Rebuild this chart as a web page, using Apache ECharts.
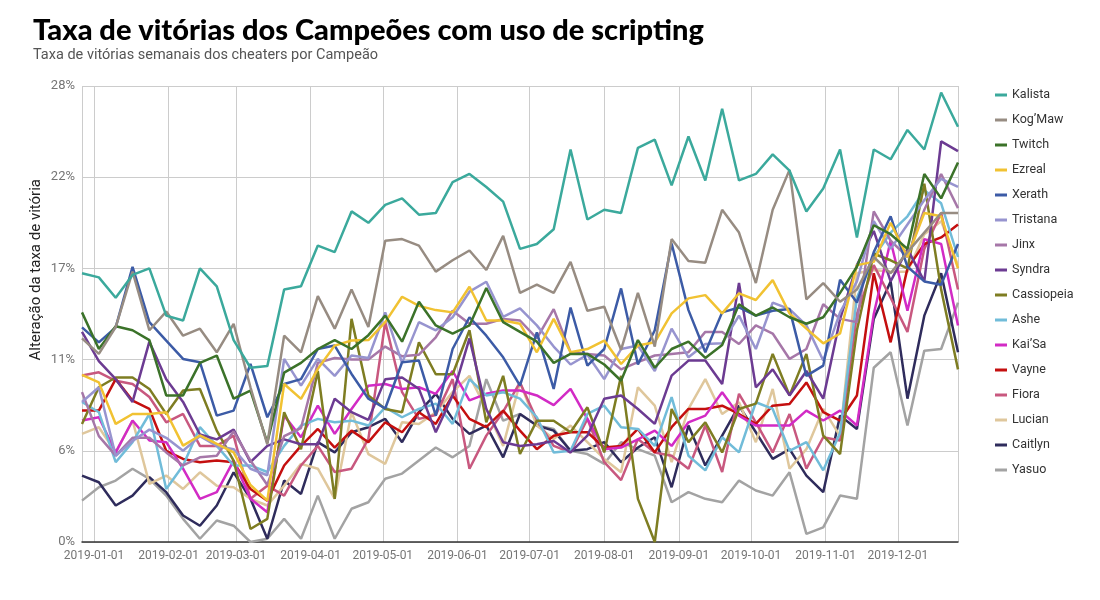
<!DOCTYPE html>
<html><head><meta charset="utf-8">
<script src="https://cdn.jsdelivr.net/npm/echarts@6/dist/echarts.min.js"></script>
<style>html,body{margin:0;padding:0;background:#fff}#c{width:1100px;height:600px}</style>
</head><body><div id="c"></div>
<script>
const weeks = ['2018-12-27','2019-01-03','2019-01-10','2019-01-17','2019-01-24','2019-01-31','2019-02-07','2019-02-14','2019-02-21','2019-02-28','2019-03-07','2019-03-14','2019-03-21','2019-03-28','2019-04-04','2019-04-11','2019-04-18','2019-04-25','2019-05-02','2019-05-09','2019-05-16','2019-05-23','2019-05-30','2019-06-06','2019-06-13','2019-06-20','2019-06-27','2019-07-04','2019-07-11','2019-07-18','2019-07-25','2019-08-01','2019-08-08','2019-08-15','2019-08-22','2019-08-29','2019-09-05','2019-09-12','2019-09-19','2019-09-26','2019-10-03','2019-10-10','2019-10-17','2019-10-24','2019-10-31','2019-11-07','2019-11-14','2019-11-21','2019-11-28','2019-12-05','2019-12-12','2019-12-19','2019-12-26'];

const champions = ['Kalista','Kog\u2019Maw','Twitch','Ezreal','Xerath','Tristana','Jinx','Syndra','Cassiopeia','Ashe','Kai\u2019Sa','Vayne','Fiora','Lucian','Caitlyn','Yasuo'];
const colors = ['#3ba99c','#978c82','#3b7229','#f1c232','#3c5ba6','#9794cf','#a677a8','#6c3b92','#7e7d22','#71bcd9','#d22bc5','#c40f0f','#c8587f','#dfc79c','#2f2c5c','#a3a3a3'];

const kalista = [16.5,16.25,15.0,16.4,16.8,13.9,13.6,16.8,15.7,12.4,10.7,10.8,15.5,15.7,18.2,17.8,20.3,19.6,20.7,21.1,20.1,20.2,22.1,22.6,21.8,20.9,18.0,18.3,19.2,24.1,19.8,20.4,20.2,24.2,24.7,21.9,24.9,22.2,26.6,22.2,22.6,23.8,22.8,20.3,21.7,24.1,18.7,24.1,23.5,25.3,24.1,27.6,25.5];
const kogmaw = [12.5,11.55,13.2,16.6,13.0,14.15,12.67,13.1,11.65,13.4,9.5,6.0,12.67,11.65,15.1,13.1,15.5,13.2,18.5,18.6,18.2,16.6,17.3,17.9,16.7,18.8,15.3,15.8,15.3,17.2,14.2,14.45,11.8,15.3,12.0,18.6,17.25,17.15,20.4,19.0,15.9,20.4,22.85,14.9,15.9,14.75,15.5,17.5,16.5,17.8,19.0,20.2,20.2];
const twitch = [14.1,11.85,13.25,13.0,12.4,9.0,9.0,11.0,11.45,8.8,9.3,6.1,10.4,11.0,11.85,12.4,11.85,12.7,13.9,12.3,14.75,13.3,12.8,13.3,15.6,13.5,12.9,12.3,11.0,11.55,11.55,10.9,9.9,12.4,10.7,11.85,12.3,11.3,12.1,14.6,13.9,14.4,13.8,13.4,13.8,15.3,16.9,19.45,18.9,18.0,22.6,21.1,23.3];
const ezreal = [10.26,9.8,7.25,7.86,7.86,7.97,5.92,6.54,6.03,5.5,3.5,2.54,9.7,8.79,10.63,12.06,12.37,12.4,13.5,15.06,14.5,14.24,14.1,15.67,13.6,13.6,13.4,11.65,13.7,11.65,11.85,12.37,10.93,12.06,12.26,14.04,14.96,15.16,14.04,15.27,14.86,16.08,14.04,13.1,12.2,12.8,17.0,17.2,19.6,17.5,20.2,20.0,16.8];
const xerath = [13.18,12.26,13.18,16.9,13.5,12.37,11.24,11.04,7.76,8.07,10.93,7.66,9.7,10.0,11.85,12.06,10.32,8.8,8.2,11.04,11.14,7.76,11.85,13.8,12.67,11.34,9.6,12.87,9.4,14.4,10.83,11.85,15.57,10.9,13.0,18.33,14.24,11.65,14.1,14.4,13.9,14.2,14.3,10.2,10.83,16.1,14.7,17.8,20.0,16.9,16.0,15.8,18.3];
const tristana = [8.6,9.5,5.3,6.2,6.9,6.4,5.6,6.5,5.9,5.7,4.5,4.1,11.24,9.6,11.24,10.2,11.45,11.3,14.1,11.0,13.5,13.0,13.8,15.37,15.98,13.83,14.35,13.3,12.0,10.9,11.5,10.0,11.85,12.06,10.5,13.1,11.34,12.16,12.2,13.9,11.85,14.7,14.3,13.3,11.14,14.1,16.0,19.7,18.0,19.5,21.0,22.3,21.8];
const jinx = [9.2,6.5,5.3,6.4,6.4,5.5,4.7,5.2,5.3,6.8,5.0,3.5,6.5,7.0,11.0,11.3,11.2,11.2,12.0,11.4,11.5,12.57,14.2,13.4,13.4,13.7,13.6,12.5,14.3,11.65,11.55,11.45,10.6,11.04,11.45,11.55,11.65,12.9,12.9,12.16,13.3,12.8,11.24,11.85,14.6,13.7,13.5,20.3,18.5,17.5,20.4,22.6,20.5];
const syndra = [12.9,11.1,10.0,8.6,12.3,10.0,8.6,6.6,6.3,6.9,4.9,5.9,6.3,6.0,6.0,8.8,7.97,7.5,10.0,10.1,9.4,6.74,9.0,12.5,8.17,6.13,5.9,6.0,6.2,5.5,6.53,8.79,9.0,8.17,7.25,10.22,11.14,11.14,9.7,15.9,9.5,10.6,9.0,10.5,8.8,13.7,17.0,19.1,16.0,18.0,16.0,24.6,24.0];
const cassiopeia = [7.25,9.5,10.1,10.1,9.4,7.86,9.3,9.4,6.84,5.0,0.8,1.42,7.97,5.7,10.5,2.65,13.7,9.0,8.17,7.97,12.26,10.3,10.3,13.0,7.35,10.2,5.4,7.45,7.45,6.74,8.27,5.5,10.2,2.65,0.0,8.17,6.13,7.35,5.5,8.17,8.5,11.55,9.0,11.55,6.53,5.4,13.0,17.7,17.3,16.8,22.0,15.5,10.6];
const ashe = [8.6,7.97,4.9,6.13,7.86,3.26,4.7,7.05,5.9,4.7,4.7,4.3,5.9,7.15,7.56,7.35,7.45,7.15,8.27,7.66,8.17,8.5,7.25,10.0,9.0,9.2,8.8,7.66,5.5,5.6,7.86,8.37,7.05,6.94,5.9,8.9,5.3,4.4,6.43,5.5,8.58,8.17,5.6,6.13,4.4,6.7,15.0,17.5,19.0,20.0,21.6,20.8,17.5];
const kaisa = [7.46,7.66,5.5,7.46,6.23,6.13,4.5,2.65,3.06,5.0,2.65,1.83,7.76,6.43,8.37,6.64,8.17,9.6,9.7,9.4,9.5,9.1,10.5,8.7,9.1,9.3,9.3,9.0,8.4,9.4,7.56,5.7,5.8,6.3,6.84,5.9,7.35,7.76,9.2,7.76,7.15,7.15,7.15,8.07,7.46,8.07,7.15,14.0,18.5,14.2,18.6,18.3,13.3];
const vayne = [8.07,8.07,10.0,8.68,8.17,5.6,5.1,4.9,5.0,4.9,3.26,2.54,4.7,5.9,6.94,5.8,6.84,6.13,7.35,6.74,7.97,7.25,9.0,7.56,7.05,8.07,6.84,5.7,6.53,6.74,6.74,5.8,5.9,6.94,5.5,7.05,8.17,8.17,8.37,7.86,7.25,8.37,8.48,9.8,7.97,7.46,9.0,16.5,12.26,16.8,18.3,18.7,19.5];
const fiora = [10.22,10.42,9.9,9.7,8.9,7.35,7.86,5.9,5.9,6.53,2.65,3.46,2.85,4.7,5.9,4.3,4.5,6.33,13.5,9.2,7.56,7.8,10.0,4.5,6.53,8.0,9.8,7.5,5.9,5.5,7.56,4.9,3.8,6.33,5.5,5.3,4.5,7.15,4.3,9.1,7.35,5.5,7.86,4.5,6.43,6.23,14.0,17.0,15.0,12.9,18.0,20.2,15.5];
const lucian = [6.64,7.05,5.5,7.46,3.57,4.08,3.26,4.28,3.46,3.36,2.65,2.24,3.46,4.8,4.5,2.65,7.97,5.4,4.8,7.35,7.25,7.97,9.2,10.2,8.17,5.9,9.8,7.15,6.33,7.15,6.13,5.1,4.28,9.5,8.37,4.9,8.17,10.0,7.86,8.58,6.13,9.4,4.5,5.7,8.17,6.5,16.5,16.7,16.6,16.6,18.9,19.7,17.0];
const caitlyn = [4.08,3.67,2.24,2.85,3.98,3.06,1.63,1.0,2.24,4.28,2.65,0.2,3.77,2.95,6.13,5.5,6.74,7.05,7.56,6.13,7.97,9.1,7.56,6.64,7.15,5.2,7.86,7.15,6.84,5.6,5.7,6.13,4.9,5.8,6.43,3.36,7.15,4.7,6.53,8.37,6.74,5.1,5.7,4.08,3.06,7.76,6.94,13.7,16.0,8.8,13.9,16.5,11.65];
const yasuo = [2.54,3.36,3.77,4.5,3.88,2.85,1.42,0.2,1.32,1.0,0.0,0.2,1.42,0.2,2.85,0.2,2.04,2.44,3.88,4.2,5.0,5.8,5.2,5.9,10.0,7.45,7.86,7.15,6.94,5.6,5.4,4.8,6.13,5.7,5.3,2.44,3.06,2.65,2.44,3.77,3.16,2.85,4.28,0.5,0.9,2.85,2.65,10.7,11.65,7.15,11.75,11.85,14.7];

const values = [kalista,kogmaw,twitch,ezreal,xerath,tristana,jinx,syndra,cassiopeia,ashe,kaisa,vayne,fiora,lucian,caitlyn,yasuo];

const chart = echarts.init(document.getElementById('c'));
const series = champions.map((name, i) => ({
  name: name,
  type: 'line',
  data: weeks.map((w, j) => [w, values[i][j]]),
  showSymbol: false,
  symbol: 'none',
  lineStyle: { width: 2.5, color: colors[i] },
  itemStyle: { color: colors[i] },
  emphasis: { disabled: true },
  z: 2 + (champions.length - i)
}));

chart.setOption({
  animation: false,
  backgroundColor: '#ffffff',
  title: {
    text: 'Taxa de vitórias dos Campeões com uso de scripting',
    subtext: 'Taxa de vitórias semanais dos cheaters por Campeão',
    left: 28, top: 11, itemGap: 3,
    textStyle: { fontFamily: 'Lato', fontWeight: 900, fontSize: 29, color: '#000' },
    subtextStyle: { fontFamily: 'Roboto', fontSize: 14.5, color: '#555' }
  },
  legend: {
    orient: 'vertical', left: 990, top: 83, itemGap: 11,
    icon: 'rect', itemWidth: 12, itemHeight: 3,
    textStyle: { fontFamily: 'Roboto', fontSize: 12.5, color: '#333', lineHeight: 14, height: 14 },
    data: champions
  },
  graphic: [{
    type: 'text', left: 29, top: 179, rotation: Math.PI / 2,
    style: { text: 'Alteração da taxa de vitória', font: '15px Roboto', fill: '#222' }
  }],
  grid: { left: 82, right: 142, top: 86, bottom: 58 },
  xAxis: {
    type: 'time',
    min: weeks[0], max: weeks[weeks.length - 1],
    splitNumber: 12,
    minInterval: 28 * 86400000,
    maxInterval: 31 * 86400000,
    axisLine: { show: true, lineStyle: { color: '#333', width: 1.5 } },
    axisTick: { show: false },
    axisLabel: { formatter: '{yyyy}-{MM}-{dd}', color: '#757575', fontFamily: 'Roboto', fontSize: 12, margin: 8, showMinLabel: false, showMaxLabel: false },
    splitLine: { show: true, lineStyle: { color: '#cccccc', width: 1 } }
  },
  yAxis: {
    type: 'value', min: 0, max: 28, interval: 5.6,
    axisLine: { show: false }, axisTick: { show: false },
    axisLabel: { formatter: v => Math.round(v) + '%', color: '#757575', fontFamily: 'Roboto', fontSize: 13, margin: 7 },
    splitLine: { lineStyle: { color: '#cccccc', width: 1 } }
  },
  series: series
});
</script></body></html>
